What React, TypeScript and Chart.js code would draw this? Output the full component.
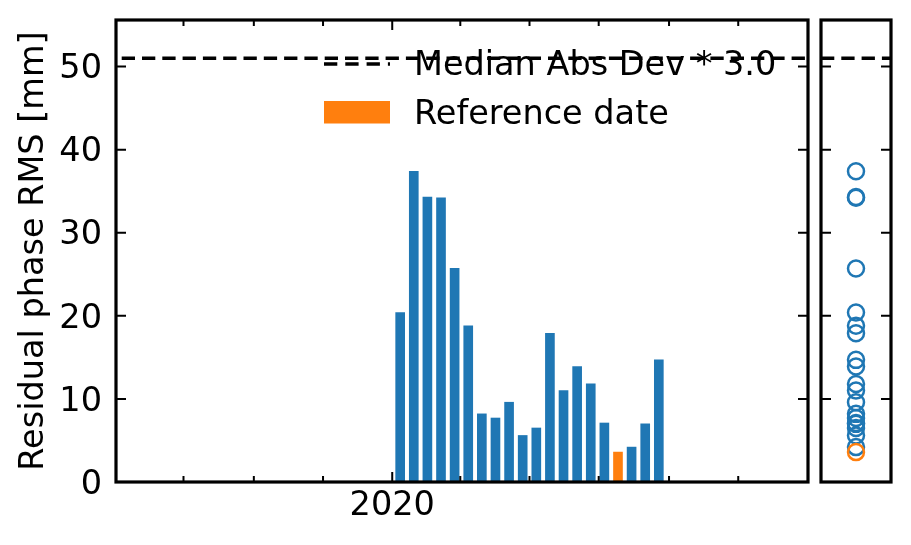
import React, { useEffect, useRef } from 'react';
import { Chart, registerables } from 'chart.js';

Chart.register(...registerables);

// ---------------- data ----------------
const ACQ_DATES = [
  '2020-01-08', '2020-01-20', '2020-02-01', '2020-02-13', '2020-02-25',
  '2020-03-08', '2020-03-20', '2020-04-01', '2020-04-13', '2020-04-25',
  '2020-05-07', '2020-05-19', '2020-05-31', '2020-06-12', '2020-06-24',
  '2020-07-06', '2020-07-18', '2020-07-30', '2020-08-11', '2020-08-23',
];
const RMS_MM = [
  20.4, 37.4, 34.3, 34.2, 25.7,
  18.8, 8.2, 7.7, 9.6, 5.6,
  6.5, 17.9, 11.0, 13.9, 11.8,
  7.1, 3.6, 4.2, 7.0, 14.7,
];
const REFERENCE_DATE = '2020-07-18';
const MAD_THRESHOLD = 51.0;
const MAD_LABEL = 'Median Abs Dev * 3.0';
const REF_LABEL = 'Reference date';
const Y_LABEL = 'Residual phase RMS [mm]';

const X_RANGE_DATES = ['2019-05-03', '2021-01-01'];
const X_TICK_DATES = [
  '2019-07-01', '2019-09-01', '2019-11-01', '2020-01-01', '2020-03-01',
  '2020-05-01', '2020-07-01', '2020-09-01', '2020-11-01',
];
const X_TICK_LABELS = ['', '', '', '2020', '', '', '', '', ''];
const Y_TICKS = [0, 10, 20, 30, 40, 50];
const Y_MAX = 55.6;

// ---------------- style ----------------
const BLUE = '#1f77b4';
const ORANGE = '#ff7f0e';
const FONT_FAMILY = 'DejaVu Sans';
const FONT_SIZE = 33.5;

const EPOCH = Date.UTC(2020, 0, 1);
const toDay = (s: string) => (Date.parse(s + 'T00:00:00Z') - EPOCH) / 86400000;

const X_MIN = toDay(X_RANGE_DATES[0]) - 0.5;
const X_MAX = toDay(X_RANGE_DATES[1]) + 0.5;
const X_TICK_DAYS = X_TICK_DATES.map(toDay);

function frameTicksPlugin(xTicks: { v: number; major: boolean }[], yTicks: number[]) {
  return {
    id: 'frameTicks',
    afterDraw(chart: any) {
      const { ctx, chartArea: a, scales } = chart;
      ctx.save();
      ctx.strokeStyle = '#000';
      ctx.lineWidth = 2;
      ctx.beginPath();
      for (const v of yTicks) {
        const py = scales.y.getPixelForValue(v);
        ctx.moveTo(a.left, py);
        ctx.lineTo(a.left + 10, py);
        ctx.moveTo(a.right, py);
        ctx.lineTo(a.right - 10, py);
      }
      for (const t of xTicks) {
        const px = scales.x.getPixelForValue(t.v);
        const len = t.major ? 10 : 6;
        ctx.moveTo(px, a.bottom);
        ctx.lineTo(px, a.bottom - len);
        ctx.moveTo(px, a.top);
        ctx.lineTo(px, a.top + len);
      }
      ctx.stroke();
      ctx.lineWidth = 3.2;
      ctx.strokeRect(a.left, a.top, a.right - a.left, a.bottom - a.top);
      ctx.restore();
    },
  };
}

const legendPlugin = {
  id: 'customLegend',
  afterDraw(chart: any) {
    const { ctx, chartArea: a } = chart;
    const hx0 = a.left + 208;
    const hx1 = a.left + 274;
    const tx = a.left + 298;
    ctx.save();
    // dashed handle
    ctx.strokeStyle = '#000';
    ctx.lineWidth = 3.6;
    ctx.setLineDash([13.3, 8]);
    ctx.beginPath();
    ctx.moveTo(hx0, a.top + 44);
    ctx.lineTo(hx1, a.top + 44);
    ctx.stroke();
    ctx.setLineDash([]);
    // patch
    ctx.fillStyle = ORANGE;
    ctx.fillRect(hx0, a.top + 81, hx1 - hx0, 22.5);
    // text
    ctx.fillStyle = '#000';
    ctx.font = `${FONT_SIZE}px "${FONT_FAMILY}"`;
    ctx.textBaseline = 'alphabetic';
    ctx.textAlign = 'left';
    ctx.fillText(MAD_LABEL, tx, a.top + 55);
    ctx.fillText(REF_LABEL, tx, a.top + 103.5);
    ctx.restore();
  },
};

const zeroPad = (s: any) => {
  s.paddingTop = 0;
  s.paddingBottom = 0;
  s.paddingLeft = 0;
  s.paddingRight = 0;
};

export default function App() {
  const mainRef = useRef<HTMLCanvasElement>(null);
  const sideRef = useRef<HTMLCanvasElement>(null);

  useEffect(() => {
    const font = { family: FONT_FAMILY, size: FONT_SIZE };
    const barData = ACQ_DATES.map((d, i) => ({ x: toDay(d), y: RMS_MM[i] }));
    const barColors = ACQ_DATES.map((d) => (d === REFERENCE_DATE ? ORANGE : BLUE));

    const main = new Chart(mainRef.current as HTMLCanvasElement, {
      type: 'bar',
      data: {
        datasets: [
          {
            type: 'line',
            label: MAD_LABEL,
            data: [
              { x: X_MIN, y: MAD_THRESHOLD },
              { x: X_MAX, y: MAD_THRESHOLD },
            ],
            borderColor: '#000',
            borderWidth: 3.6,
            borderDash: [13.3, 7],
            borderDashOffset: 14.6,
            pointRadius: 0,
            order: 0,
          } as any,
          {
            type: 'bar',
            label: 'RMS',
            data: barData,
            backgroundColor: barColors,
            borderWidth: 0,
            barThickness: 9,
            order: 1,
          } as any,
        ],
      },
      options: {
        animation: false,
        responsive: false,
        maintainAspectRatio: false,
        events: [],
        layout: { autoPadding: false, padding: { left: 0, top: 20, right: 7, bottom: 0 } },
        plugins: { legend: { display: false }, tooltip: { enabled: false } },
        scales: {
          x: {
            type: 'linear',
            min: X_MIN,
            max: X_MAX,
            offset: false,
            grid: { display: false, drawTicks: false },
            border: { display: false },
            afterBuildTicks: (s: any) => {
              s.ticks = X_TICK_DAYS.map((v) => ({ value: v }));
            },
            afterFit: (s: any) => {
              s.height = 63;
              zeroPad(s);
            },
            ticks: {
              callback: (_v: any, i: number) => X_TICK_LABELS[i],
              font,
              color: '#000',
              padding: 4.5,
              maxRotation: 0,
              autoSkip: false,
            },
          },
          y: {
            type: 'linear',
            min: 0,
            max: Y_MAX,
            grid: { display: false, drawTicks: false },
            border: { display: false },
            afterBuildTicks: (s: any) => {
              s.ticks = Y_TICKS.map((v) => ({ value: v }));
            },
            afterFit: (s: any) => {
              s.width = 116;
              zeroPad(s);
            },
            ticks: {
              // two-line label with a small line height nudges the text ~3px down,
              // matching the reference's vertical centring of tick labels
              callback: (v: any) => ['', String(v)],
              font: { family: FONT_FAMILY, size: FONT_SIZE, lineHeight: '6px' },
              color: '#000',
              padding: 14,
            },
            title: {
              display: true,
              text: Y_LABEL,
              font,
              color: '#000',
              padding: { top: 14, bottom: 0 },
            },
          },
        },
      } as any,
      plugins: [
        frameTicksPlugin(
          X_TICK_DAYS.map((v, i) => ({ v, major: X_TICK_LABELS[i] !== '' })),
          Y_TICKS,
        ),
        legendPlugin,
      ],
    });

    const refIdx = ACQ_DATES.indexOf(REFERENCE_DATE);
    const side = new Chart(sideRef.current as HTMLCanvasElement, {
      type: 'scatter',
      data: {
        datasets: [
          {
            type: 'line',
            label: MAD_LABEL,
            data: [
              { x: -1, y: MAD_THRESHOLD },
              { x: 1, y: MAD_THRESHOLD },
            ],
            borderColor: '#000',
            borderWidth: 3.6,
            borderDash: [13.3, 7],
            pointRadius: 0,
            order: 0,
          } as any,
          {
            label: REF_LABEL,
            data: [{ x: 0, y: RMS_MM[refIdx] }],
            pointRadius: 8,
            pointBorderWidth: 2.5,
            pointBorderColor: ORANGE,
            pointBackgroundColor: 'rgba(0,0,0,0)',
            order: 1,
          } as any,
          {
            label: 'RMS',
            data: RMS_MM.filter((_, i) => i !== refIdx).map((v) => ({ x: 0, y: v })),
            pointRadius: 8,
            pointBorderWidth: 2.5,
            pointBorderColor: BLUE,
            pointBackgroundColor: 'rgba(0,0,0,0)',
            order: 2,
          } as any,
        ],
      },
      options: {
        animation: false,
        responsive: false,
        maintainAspectRatio: false,
        events: [],
        layout: { autoPadding: false, padding: { left: 6, top: 20, right: 20, bottom: 63 } },
        plugins: { legend: { display: false }, tooltip: { enabled: false } },
        scales: {
          x: { type: 'linear', min: -1, max: 1, display: false },
          y: { type: 'linear', min: 0, max: Y_MAX, display: false },
        },
      } as any,
      plugins: [frameTicksPlugin([], Y_TICKS)],
    });

    return () => {
      main.destroy();
      side.destroy();
    };
  }, []);

  return (
    <div style={{ position: 'absolute', left: 0, top: 0, width: 911, height: 545, background: '#fff' }}>
      <canvas
        ref={mainRef}
        width={815}
        height={545}
        style={{ position: 'absolute', left: 0, top: 0, width: 815, height: 545, display: 'block' }}
      />
      <canvas
        ref={sideRef}
        width={96}
        height={545}
        style={{ position: 'absolute', left: 815, top: 0, width: 96, height: 545, display: 'block' }}
      />
    </div>
  );
}
